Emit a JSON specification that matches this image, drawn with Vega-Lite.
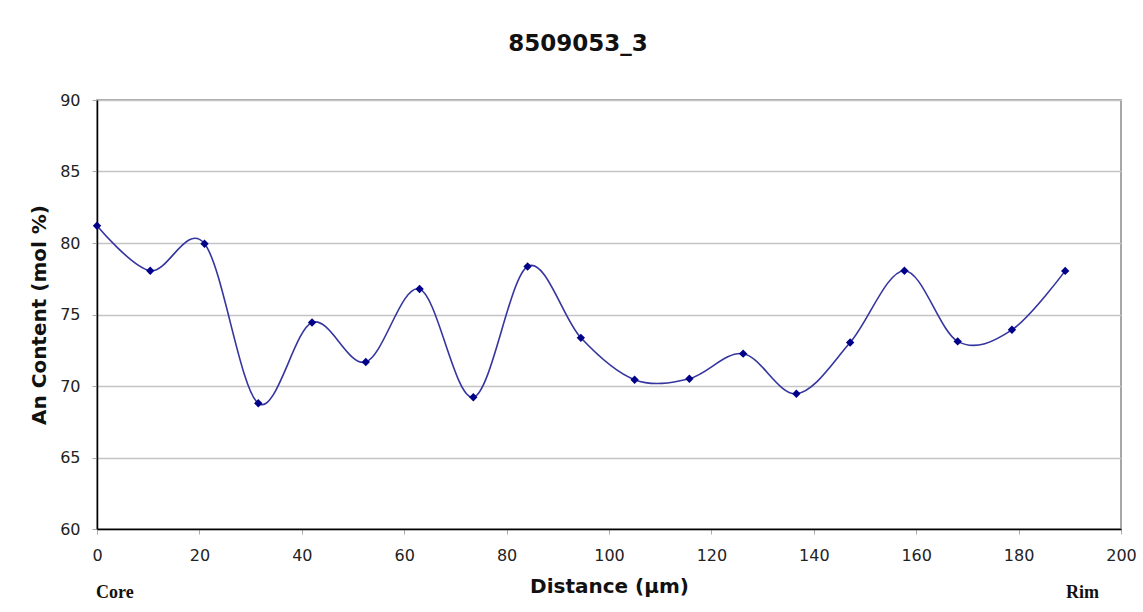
{
  "$schema": "https://vega.github.io/schema/vega-lite/v6.json",
  "autosize": "none",
  "width": 1024,
  "height": 429,
  "padding": {"left": 97, "top": 100, "right": 22, "bottom": 83},
  "background": "white",
  "title": {
    "text": "8509053_3",
    "font": "DejaVu Sans",
    "fontSize": 23,
    "fontWeight": "bold",
    "color": "#111111",
    "anchor": "middle",
    "dx": -31,
    "offset": 36
  },
  "data": {
    "values": [
      {"distance": 0, "an": 81.21},
      {"distance": 10.4, "an": 78.06},
      {"distance": 21.0, "an": 79.95},
      {"distance": 31.5, "an": 68.79},
      {"distance": 42.0, "an": 74.44},
      {"distance": 52.5, "an": 71.68},
      {"distance": 63.0, "an": 76.78},
      {"distance": 73.5, "an": 69.21},
      {"distance": 84.1, "an": 78.36},
      {"distance": 94.5, "an": 73.37},
      {"distance": 105.0, "an": 70.44},
      {"distance": 115.7, "an": 70.51},
      {"distance": 126.2, "an": 72.26},
      {"distance": 136.6, "an": 69.46},
      {"distance": 147.1, "an": 73.04},
      {"distance": 157.7, "an": 78.06},
      {"distance": 168.1, "an": 73.12},
      {"distance": 178.7, "an": 73.93},
      {"distance": 189.1, "an": 78.05}
    ]
  },
  "encoding": {
    "x": {
      "field": "distance",
      "type": "quantitative",
      "scale": {"domain": [0, 200], "nice": false, "zero": false}
    },
    "y": {
      "field": "an",
      "type": "quantitative",
      "scale": {"domain": [60, 90], "nice": false, "zero": false},
      "axis": {
        "title": "An Content (mol %)",
        "values": [60, 65, 70, 75, 80, 85, 90],
        "grid": true,
        "gridColor": "#c4c4c4",
        "gridWidth": 1.5,
        "domainColor": "#000000",
        "domainWidth": 1.5,
        "tickColor": "#aaaaaa",
        "tickSize": 5,
        "labelPadding": 12,
        "labelFont": "DejaVu Sans",
        "labelFontSize": 16,
        "labelColor": "#222222",
        "titleFont": "DejaVu Sans",
        "titleFontSize": 20,
        "titleFontWeight": "bold",
        "titleColor": "#111111",
        "titlePadding": 10
      }
    }
  },
  "layer": [
    {
      "mark": {"type": "line", "interpolate": "cardinal", "color": "#3535a0", "strokeWidth": 1.6},
      "encoding": {
        "x": {
          "field": "distance",
          "type": "quantitative",
          "axis": {
            "title": "Distance (µm)",
            "orient": "bottom",
            "values": [0, 20, 40, 60, 80, 100, 120, 140, 160, 180, 200],
            "grid": false,
            "domainColor": "#000000",
            "domainWidth": 1.5,
            "tickColor": "#aaaaaa",
            "tickSize": 5,
            "labelPadding": 13,
            "labelFont": "DejaVu Sans",
            "labelFontSize": 16,
            "labelColor": "#222222",
            "labelFlush": false,
            "titleFont": "DejaVu Sans",
            "titleFontSize": 20,
            "titleFontWeight": "bold",
            "titleColor": "#111111",
            "titlePadding": 13
          }
        }
      }
    },
    {
      "mark": {"type": "point", "shape": "diamond", "filled": true, "size": 70, "color": "#000088", "opacity": 1},
      "encoding": {
        "x": {
          "field": "distance",
          "type": "quantitative",
          "axis": {
            "title": null,
            "orient": "bottom",
            "values": [3.4, 192.4],
            "labelExpr": "datum.value < 100 ? 'Core' : 'Rim'",
            "grid": false,
            "domain": false,
            "ticks": false,
            "labelPadding": 54,
            "labelFont": "Liberation Serif",
            "labelFontSize": 18,
            "labelFontWeight": "bold",
            "labelColor": "#111111",
            "labelFlush": false
          }
        }
      }
    }
  ],
  "resolve": {"axis": {"x": "independent"}},
  "config": {
    "view": {"stroke": "#8a8a8a", "strokeWidth": 1.5}
  }
}
